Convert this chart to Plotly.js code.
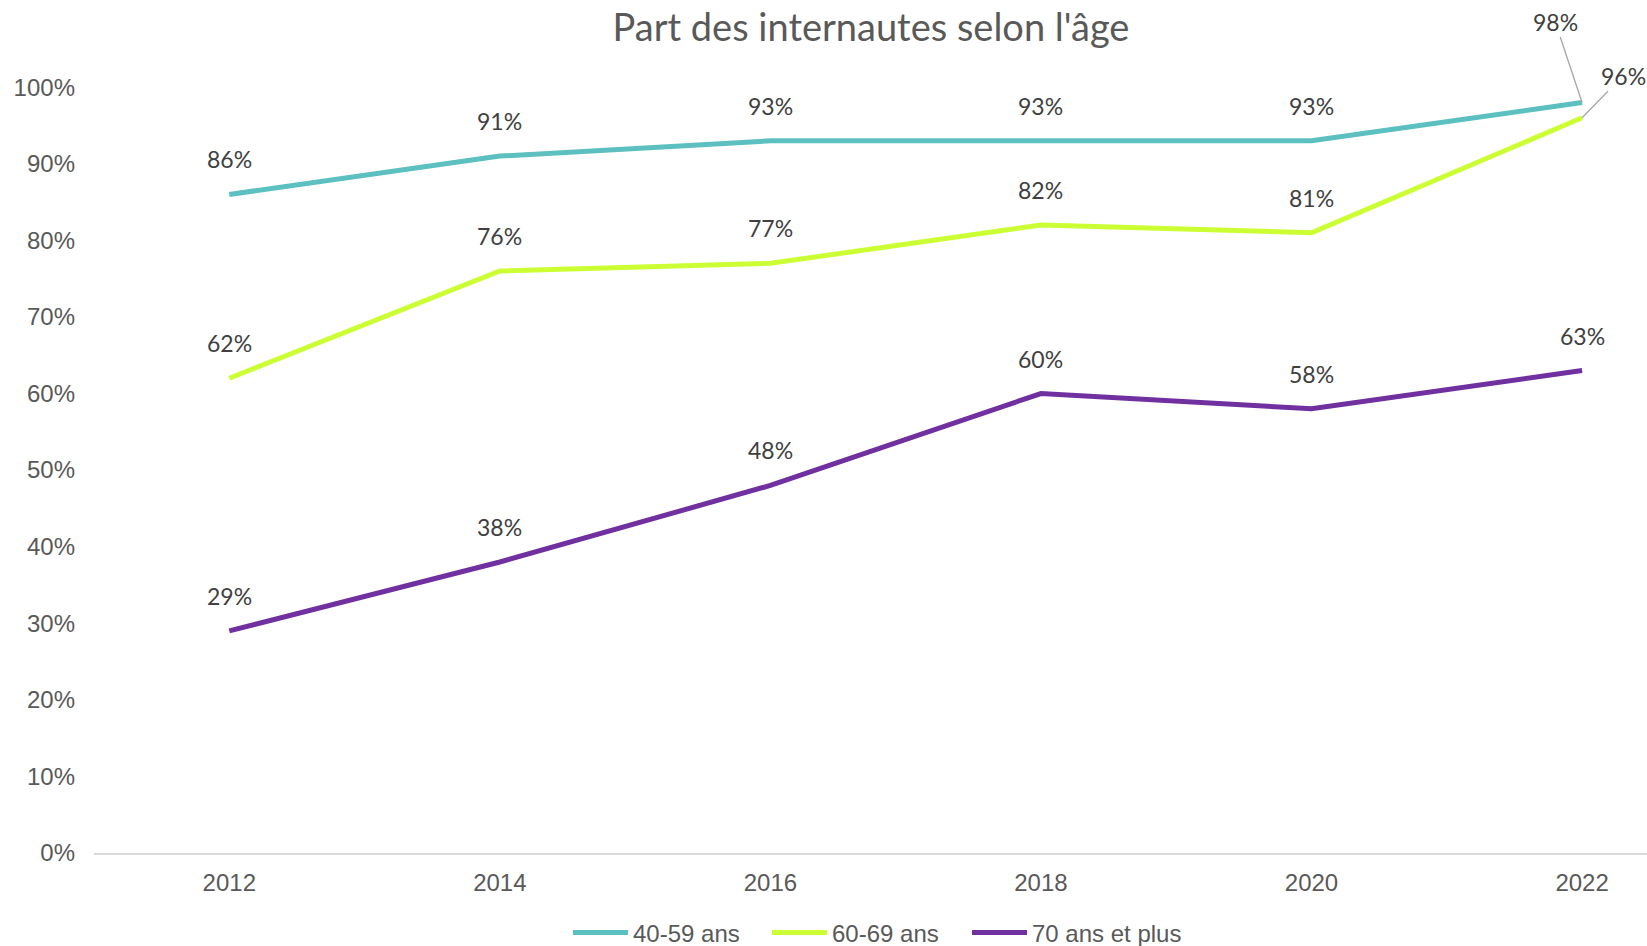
<!DOCTYPE html>
<html>
<head>
<meta charset="utf-8">
<script src="https://cdn.plot.ly/plotly-3.0.1.min.js"></script>
<style>html,body{margin:0;padding:0;background:#fff;}#chart{width:1647px;height:946px;}</style>
</head>
<body>
<div id="chart"></div>
<script>
const years = [2012, 2014, 2016, 2018, 2020, 2022];
const seriesNames = ["40-59 ans", "60-69 ans", "70 ans et plus"];
const s4059 = [86, 91, 93, 93, 93, 98];
const s6069 = [62, 76, 77, 82, 81, 96];
const s70plus = [29, 38, 48, 60, 58, 63];
const yTicks = [0, 10, 20, 30, 40, 50, 60, 70, 80, 90, 100];

const colors = ["#5BC0BF", "#CCFF33", "#7030A0"];
const allSeries = [s4059, s6069, s70plus];
const legendIds = ["legend", "legend2", "legend3"];
const legendX = [568, 767, 967];

const traces = allSeries.map((vals, i) => ({
  x: years, y: vals, type: "scatter", mode: "lines", name: seriesNames[i],
  legend: legendIds[i],
  line: {color: colors[i], width: 5}, hoverinfo: "x+y"
}));

const annotations = [];
// leader-line offsets for crowded last points
const leader = {"0-5": {ax: -27, ay: -81}, "1-5": {ax: 41, ay: -42}};
allSeries.forEach((vals, i) => {
  vals.forEach((v, j) => {
    const key = i + "-" + j;
    const base = {x: years[j], y: v, xref: "x", yref: "y", text: v + "%",
      font: {family: "Lato, 'Open Sans', sans-serif", size: 23, color: "#404040"}};
    if (leader[key]) {
      annotations.push(Object.assign(base, {showarrow: true, arrowhead: 0, arrowwidth: 1.3,
        arrowcolor: "#A6A6A6", ax: leader[key].ax, ay: leader[key].ay, standoff: 0}));
    } else {
      annotations.push(Object.assign(base, {showarrow: false, yshift: 35}));
    }
  });
});

const layout = {
  width: 1647, height: 946,
  margin: {l: 94, r: 0, t: 60, b: 93},
  paper_bgcolor: "#fff", plot_bgcolor: "#fff",
  title: {text: "Part des internautes selon l'âge", x: 871/1647, xref: "container", xanchor: "center",
    y: 1 - 28/946, yref: "container", yanchor: "middle",
    font: {family: "Lato, 'Open Sans', sans-serif", size: 38, color: "#595959"}},
  xaxis: {type: "linear", range: [2011.0, 2022.48], tickvals: years, ticktext: years.map(String),
    showgrid: false, zeroline: false, showline: true, linecolor: "#D9D9D9", linewidth: 1.5,
    ticks: "", ticklabelstandoff: 7,
    tickfont: {family: "Liberation Sans, Arial, sans-serif", size: 24, color: "#595959"}},
  yaxis: {range: [0, 103.55], tickvals: yTicks, ticktext: yTicks.map(v => v + "%"),
    showgrid: false, zeroline: false, showline: false, ticks: "", ticklabelstandoff: 18,
    tickfont: {family: "Liberation Sans, Arial, sans-serif", size: 24, color: "#595959"}},
  showlegend: true,
  annotations: annotations
};
legendIds.forEach((id, i) => {
  layout[id] = {orientation: "h", xref: "container", yref: "container", x: legendX[i] / 1647,
    xanchor: "left", y: 1 - 933/946, yanchor: "middle", itemwidth: 55,
    font: {family: "Liberation Sans, Arial, sans-serif", size: 24, color: "#595959"}};
});

Plotly.newPlot("chart", traces, layout, {displayModeBar: false});
</script>
</body>
</html>
